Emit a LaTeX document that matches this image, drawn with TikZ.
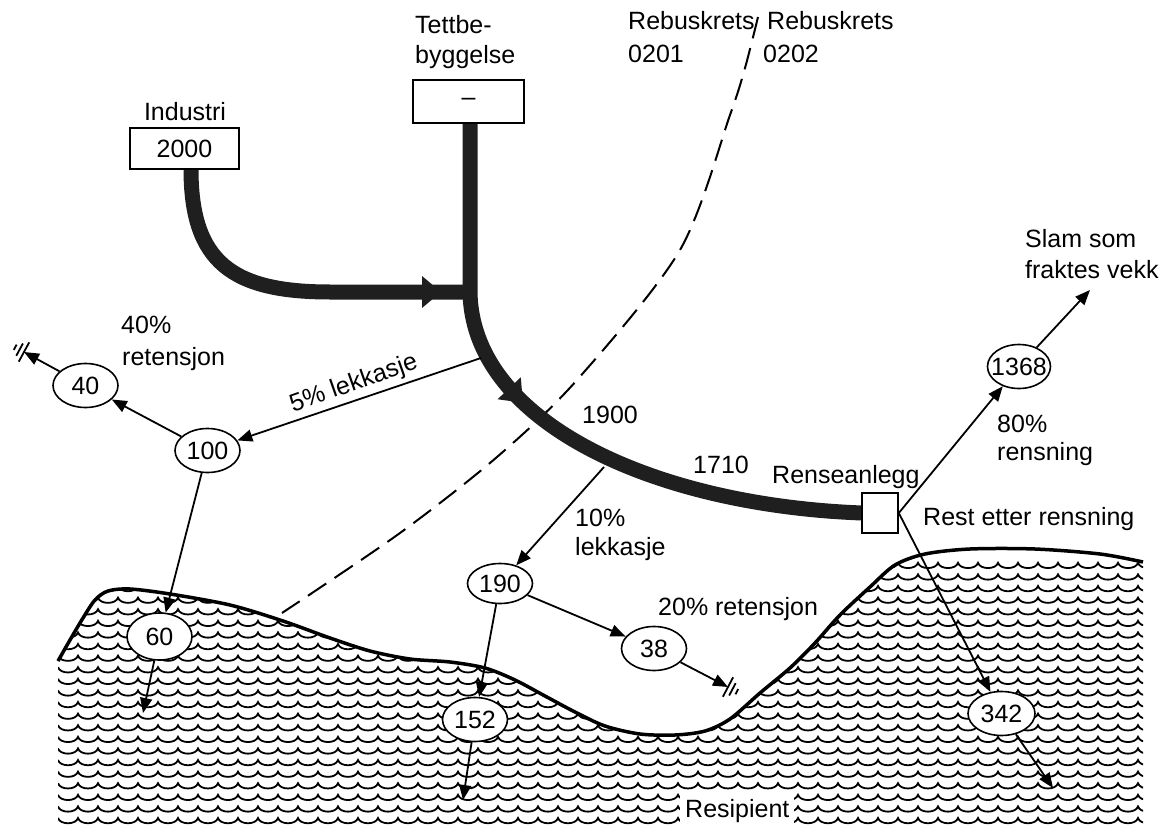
\documentclass[tikz,border=0pt]{standalone}
\usepackage{fontspec}
\setmainfont{Liberation Sans}
\usetikzlibrary{arrows.meta,decorations.markings,shapes.geometric}
\begin{document}
\begin{tikzpicture}[x=1pt,y=-1pt,
  every node/.style={font=\fontsize{25}{30}\selectfont, inner sep=0pt},
  lbl/.style={anchor=base west},
  val/.style={ellipse, draw, line width=1.6pt, fill=white, minimum width=65pt, minimum height=44pt, inner sep=0pt},
  srcbox/.style={draw, line width=1.8pt, fill=white, minimum width=109pt, minimum height=41pt},
  flow/.style={line width=1.8pt, -{Triangle[length=15pt,width=12pt]}},
  pipe/.style={line width=15pt, draw=black!88},
  wave/.style={line width=1.8pt},
  coast/.style={line width=3.5pt},
  divider/.style={dash pattern=on 22pt off 10pt, line width=2pt},
  ground/.pic={\draw[line width=1.8pt] (0,-11)--(0,11) (5,-7)--(5,7) (10,-3)--(10,3);}
]
\useasboundingbox (0,0) rectangle (1163,827);

% water texture
\begin{scope}
  \clip plot[smooth] coordinates {(58,661) (70,640) (83,618) (95,600) (108,591) (130,589) (170,594) (230,605) (283,621) (330,638) (370,651) (410,659) (450,662) (485,668) (515,680) (545,696) (575,712) (605,726) (640,734) (675,735) (705,731) (730,719) (760,693) (790,668) (815,643) (840,615) (870,587) (895,565) (925,554) (970,549) (1035,549) (1100,554) (1143,562)} -- (1143,830) -- (58,830) -- cycle;
  \foreach \r in {0,...,22} {
    \pgfmathsetmacro\yy{562.8+11.6*\r}
    \draw[wave] (58,\yy) foreach \i in {1,...,55} { .. controls +(2,7) and +(-2,7) .. ++(20,0) };
  }
\end{scope}
\draw[coast] plot[smooth] coordinates {(58,661) (70,640) (83,618) (95,600) (108,591) (130,589) (170,594) (230,605) (283,621) (330,638) (370,651) (410,659) (450,662) (485,668) (515,680) (545,696) (575,712) (605,726) (640,734) (675,735) (705,731) (730,719) (760,693) (790,668) (815,643) (840,615) (870,587) (895,565) (925,554) (970,549) (1035,549) (1100,554) (1143,562)};

% district boundary
\draw[divider] plot[smooth] coordinates {(758,17) (745,68) (730,115) (680,250) (577,380) (497,457) (400,533) (282,613)};

% pipes
\draw[pipe] (191,169) .. controls (191,262) and (232,292) .. (330,292) -- (470,292);
\fill[black!88] (422,276) -- (441,292) -- (422,308) -- cycle;
\draw[pipe, postaction={decorate, decoration={markings, mark=at position 0.43 with {\fill[black!88] (-8,-16) -- (12,0) -- (-8,16) -- cycle;}}}]
  (470,123) -- (470,290) .. controls (470,420) and (650,505) .. (862,513);

% sources and plant
\node[srcbox] (ind) at (184.5,148.5) {2000};
\node[anchor=base] (indl) at (185,120) {Industri};
\node[srcbox, minimum width=111pt, minimum height=43pt] (tett) at (468.5,101.5) {\textendash};
\node[lbl] (tl1) at (415,33) {Tettbe-};
\node[lbl] (tl2) at (415,63) {byggelse};
\node[draw, line width=1.6pt, fill=white, minimum width=36pt, minimum height=40pt] (rense) at (880,513) {};

% value nodes
\node[val] (n40) at (85.5,385.5) {40};
\node[val] (n100) at (207.5,450.5) {100};
\node[val, minimum height=40pt] (n190) at (500,583.5) {190};
\node[val] (n38) at (654,648.5) {38};
\node[val] (n152) at (475,719.5) {152};
\node[val, minimum height=47pt] (n60) at (159.5,636.5) {60};
\node[val, minimum width=67pt] (n342) at (1001.5,713.5) {342};
\node[val, minimum width=63pt] (n1368) at (1019,366.5) {\makebox[0pt]{1368}};

% coordinates
\coordinate (p1) at (481,358);
\coordinate (p2) at (604,467);
\coordinate (g40) at (24,352);
\coordinate (g38) at (728,687);
\coordinate (d60) at (143,713);
\coordinate (d152) at (463,800);
\coordinate (d342) at (1053,788);
\coordinate (slam) at (1090,290);

% flows
\draw[flow] (p1) -- (n100);
\draw[flow] (n100) -- (n40);
\draw[flow] (n40) -- (g40);
\pic[rotate=151.6] at (g40) {ground};
\draw[flow] (n100) -- (n60);
\draw[flow] (n60) -- (d60);
\draw[flow] (p2) -- (n190);
\draw[flow] (n190) -- (n38);
\draw[flow] (n38) -- (g38);
\pic[rotate=-27.8] at (g38) {ground};
\draw[flow] (n190) -- (n152);
\draw[flow] (n152) -- (d152);
\draw[flow] (rense.east) -- (n1368);
\draw[flow] (n1368) -- (slam);
\draw[flow] (rense.east) -- (n342);
\draw[flow] (n342) -- (d342);

% labels
\node[lbl] (rb1) at (628,30) {Rebuskrets};
\node[lbl] (rb2) at (767,30) {Rebuskrets};
\node[lbl] (k1) at (628,62) {0201};
\node[lbl] (k2) at (763,62) {0202};
\node[lbl] (r40a) at (121,333) {40\%};
\node[lbl] (r40b) at (122,365) {retensjon};
\node[anchor=base, rotate=19.4] (lek5) at (356,390) {5\% lekkasje};
\node[lbl] (q1900) at (582,423) {1900};
\node[lbl] (q1710) at (693,473) {1710};
\node[lbl] (lek10a) at (575,526) {10\%};
\node[lbl] (lek10b) at (575,555) {lekkasje};
\node[lbl] (rensl) at (772,483) {Renseanlegg};
\node[lbl] (rest) at (923,525) {Rest etter rensning};
\node[lbl] (r80a) at (997,432) {80\%};
\node[lbl] (r80b) at (997,460) {rensning};
\node[lbl] (slam1) at (1025,247) {Slam som};
\node[lbl] (slam2) at (1025,278) {fraktes vekk};
\node[lbl] (r20) at (658,615) {20\% retensjon};
\node[lbl, fill=white, inner xsep=5pt, inner ysep=6pt] (res) at (680,817) {Resipient};
\end{tikzpicture}
\end{document}
